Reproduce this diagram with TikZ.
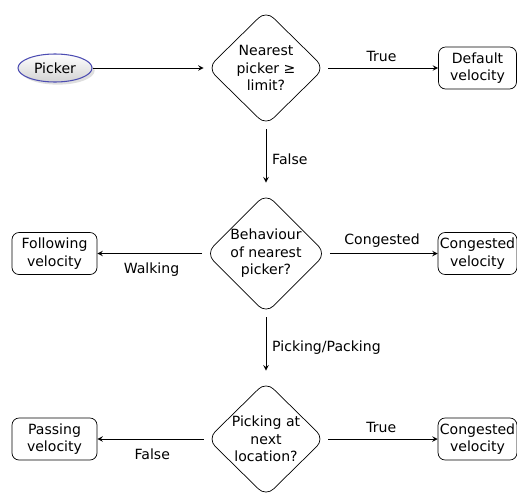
\documentclass[tikz,border=0pt]{standalone}
\usepackage{fontspec}
\setmainfont{DejaVu Sans}
\usetikzlibrary{shapes.geometric,shadows}

\tikzset{
  decision/.style={diamond,draw,rounded corners=6pt,minimum width=2.34cm,minimum height=2.3cm,inner sep=0pt,align=center,font=\fontsize{8}{10}\selectfont},
  velbox/.style={draw,rounded corners=4pt,minimum width=1.56cm,minimum height=0.84cm,inner sep=1pt,align=center,font=\fontsize{8}{10}\selectfont},
  lbl/.style={font=\fontsize{8}{10}\selectfont}
}

\begin{document}
\begin{tikzpicture}[>=stealth]
\useasboundingbox (0,0) rectangle (10.34,-9.84);
\node[ellipse,draw=blue!40!gray,semithick,top color=white,bottom color=gray!35,drop shadow={fill=gray!50,shadow xshift=1.5pt,shadow yshift=-1.5pt},minimum width=1.48cm,minimum height=0.56cm,inner sep=0pt,font=\fontsize{8}{10}\selectfont] (picker) at (1.1,-1.36) {Picker};
\node[decision] (near) at (5.32,-1.36) {Nearest\\picker ≥\\limit?};
\node[velbox] (default) at (9.55,-1.36) {Default\\velocity};
\node[decision] (behav) at (5.32,-5.07) {Behaviour\\of nearest\\picker?};
\node[velbox,minimum width=1.7cm] (follow) at (1.09,-5.07) {Following\\velocity};
\node[velbox] (cong1) at (9.55,-5.07) {Congested\\velocity};
\node[decision] (next) at (5.32,-8.78) {Picking at\\next\\location?};
\node[velbox,minimum width=1.7cm] (pass) at (1.09,-8.78) {Passing\\velocity};
\node[velbox] (cong2) at (9.55,-8.78) {Congested\\velocity};

\draw[->] (picker) -- ([xshift=-2pt]near.west);
\draw[->,shorten <=2pt] (near) -- node[lbl,above] {True} (default);
\draw[->,shorten <=2pt,shorten >=6pt] (near) -- node[lbl,right] {False} (behav);
\draw[->,shorten <=2pt] (behav) -- node[lbl,below,yshift=-2pt] {Walking} (follow);
\draw[->,shorten <=2pt] (behav) -- node[lbl,above] {Congested} (cong1);
\draw[->,shorten <=2pt,shorten >=6pt] (behav) -- node[lbl,right] {Picking/Packing} (next);
\draw[->,shorten <=2pt] (next) -- node[lbl,below,yshift=-2pt] {False} (pass);
\draw[->,shorten <=2pt] (next) -- node[lbl,above] {True} (cong2);
\end{tikzpicture}
\end{document}
